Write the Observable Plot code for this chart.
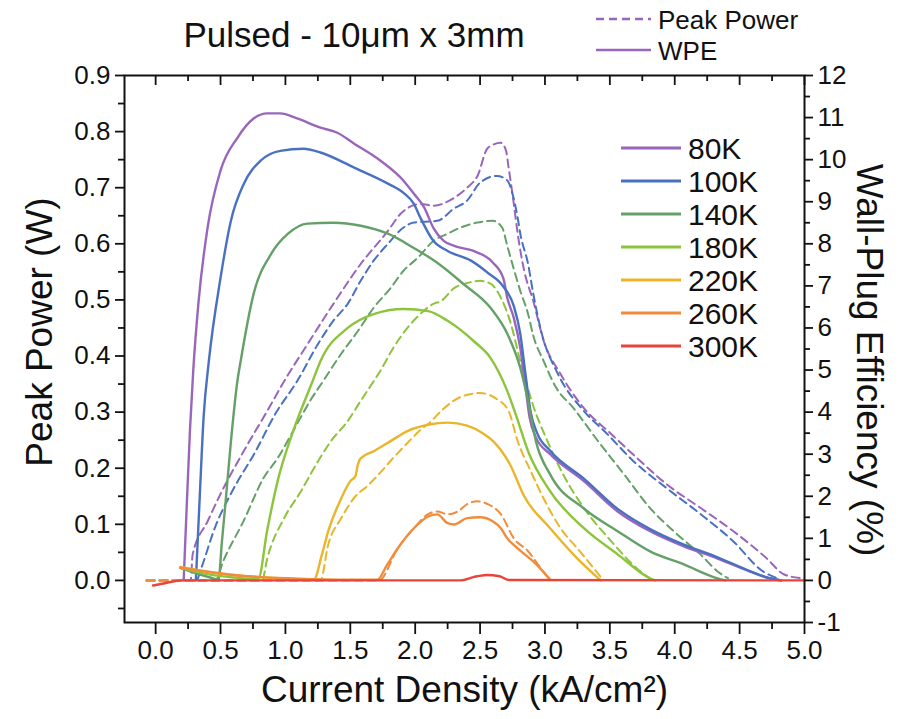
<!DOCTYPE html>
<html><head><meta charset="utf-8">
<script src="https://cdn.jsdelivr.net/npm/d3@7"></script>
<script src="https://cdn.jsdelivr.net/npm/@observablehq/plot@0.6"></script>
<style>
body{margin:0;background:#fff;}
#wrap{position:relative;width:907px;height:719px;}
</style></head><body><div id="wrap"></div>
<script>
const temps = ["80K","100K","140K","180K","220K","260K","300K"];
const colors = ["#9966bb","#4a70c2","#64a068","#8cc43c","#eab52a","#f08c3c","#e8443a"];
const xTicks = [0,0.5,1,1.5,2,2.5,3,3.5,4,4.5,5];
const xMinor = [-0.25,0.25,0.75,1.25,1.75,2.25,2.75,3.25,3.75,4.25,4.75];
const yLeftTicks = [0,0.1,0.2,0.3,0.4,0.5,0.6,0.7,0.8,0.9];
const yLeftMinor = [-0.05,0.05,0.15,0.25,0.35,0.45,0.55,0.65,0.75,0.85];
const yRightTicks = [-1,0,1,2,3,4,5,6,7,8,9,10,11,12];
const yRightMinor = [-0.5,0.5,1.5,2.5,3.5,4.5,5.5,6.5,7.5,8.5,9.5,10.5,11.5];
const seriesLabels = ["Peak Power","WPE"];

// Wall-plug efficiency (%) vs current density (kA/cm2)
const wpe80 = [[0.216,0],[0.24,1.8],[0.265,3.6],[0.29,5.0],[0.33,6.6],[0.40,8.38],[0.50,9.74],[0.63,10.52],[0.755,10.98],[0.86,11.10],[0.96,11.10],[1.09,10.98],[1.27,10.76],[1.40,10.64],[1.53,10.38],[1.73,9.98],[1.91,9.50],[1.99,9.19],[2.07,8.86],[2.14,8.38],[2.22,8.07],[2.30,7.95],[2.45,7.83],[2.60,7.55],[2.68,7.17],[2.71,6.71],[2.76,6.24],[2.81,5.52],[2.85,4.6],[2.88,3.9],[2.93,3.4],[3.04,3.0],[3.30,2.36],[3.56,1.64],[3.81,1.17],[4.07,0.81],[4.33,0.52],[4.58,0.21],[4.71,0.07],[4.82,0]];
const wpe100 = [[0.31,0],[0.34,2.0],[0.37,3.9],[0.41,5.21],[0.50,7.19],[0.58,8.55],[0.68,9.43],[0.81,9.98],[0.96,10.21],[1.14,10.26],[1.27,10.17],[1.53,9.81],[1.79,9.43],[1.91,9.21],[1.99,8.95],[2.04,8.62],[2.14,8.07],[2.25,7.83],[2.43,7.60],[2.56,7.31],[2.68,6.98],[2.76,6.52],[2.81,5.86],[2.85,4.9],[2.89,4.0],[2.94,3.5],[3.04,3.08],[3.30,2.42],[3.56,1.70],[3.81,1.22],[4.07,0.85],[4.33,0.55],[4.58,0.22],[4.72,0.06],[4.82,0]];
const wpe140 = [[0.19,0.30],[0.3,0.18],[0.42,0.07],[0.485,0.02],[0.51,0.9],[0.54,1.9],[0.58,3.3],[0.63,4.74],[0.655,5.21],[0.755,6.81],[0.89,7.76],[1.02,8.24],[1.17,8.48],[1.37,8.50],[1.58,8.43],[1.79,8.24],[1.99,7.90],[2.17,7.55],[2.37,7.05],[2.58,6.48],[2.71,5.86],[2.81,5.05],[2.87,4.26],[2.93,3.31],[3.04,2.52],[3.30,1.71],[3.56,1.17],[3.81,0.69],[4.07,0.38],[4.33,0.05],[4.39,0]];
const wpe180 = [[0.19,0.30],[0.4,0.15],[0.6,0.07],[0.79,0.03],[0.86,1.2],[0.94,2.36],[1.06,3.55],[1.21,4.74],[1.27,5.21],[1.48,6.00],[1.68,6.33],[1.91,6.45],[2.10,6.40],[2.25,6.17],[2.45,5.69],[2.58,5.29],[2.71,4.5],[2.78,3.9],[2.87,3.07],[3.04,2.12],[3.30,1.24],[3.56,0.62],[3.81,0.05],[3.85,0]];
const wpe220 = [[0.19,0.32],[0.5,0.16],[0.9,0.06],[1.22,0.02],[1.28,0.6],[1.33,1.17],[1.43,1.95],[1.50,2.36],[1.54,2.48],[1.555,2.71],[1.58,2.90],[1.68,3.07],[1.81,3.31],[1.94,3.55],[2.10,3.70],[2.25,3.75],[2.40,3.68],[2.52,3.50],[2.60,3.31],[2.73,2.76],[2.84,2.00],[3.04,1.24],[3.25,0.52],[3.43,0]];
const wpe260 = [[0.19,0.30],[0.6,0.13],[1.0,0.05],[1.4,0.02],[1.71,0.02],[1.78,0.35],[1.865,0.76],[1.99,1.24],[2.10,1.52],[2.17,1.57],[2.25,1.36],[2.30,1.33],[2.40,1.48],[2.50,1.50],[2.60,1.40],[2.66,1.24],[2.71,1.00],[2.79,0.76],[2.91,0.45],[3.04,0.02]];
const wpe300 = [[-0.02,-0.12],[0.08,-0.06],[0.2,0],[2.35,0],[2.45,0.08],[2.55,0.13],[2.65,0.1],[2.72,0.01],[5.0,0]];

// Peak power (W) vs current density (kA/cm2)
const pp80 = [[-0.07,0],[0.27,0],[0.285,0.046],[0.40,0.105],[0.50,0.154],[0.71,0.243],[0.86,0.302],[0.99,0.355],[1.17,0.421],[1.37,0.493],[1.58,0.564],[1.79,0.623],[1.89,0.654],[2.04,0.671],[2.14,0.668],[2.30,0.682],[2.40,0.700],[2.48,0.721],[2.56,0.771],[2.66,0.780],[2.70,0.766],[2.72,0.736],[2.76,0.671],[2.79,0.618],[2.84,0.552],[2.91,0.498],[2.99,0.427],[3.12,0.368],[3.30,0.307],[3.51,0.261],[3.71,0.218],[3.94,0.171],[4.20,0.129],[4.45,0.088],[4.71,0.039],[4.84,0.011],[4.97,0.004]];
const pp100 = [[-0.07,0],[0.315,0],[0.35,0.021],[0.46,0.096],[0.59,0.159],[0.77,0.230],[0.92,0.296],[1.09,0.355],[1.25,0.421],[1.37,0.463],[1.48,0.493],[1.58,0.534],[1.68,0.570],[1.79,0.600],[1.91,0.629],[1.99,0.638],[2.17,0.641],[2.30,0.663],[2.40,0.677],[2.50,0.709],[2.63,0.721],[2.71,0.713],[2.75,0.689],[2.79,0.646],[2.81,0.618],[2.87,0.564],[2.91,0.511],[2.97,0.445],[3.10,0.368],[3.30,0.302],[3.48,0.261],[3.68,0.213],[3.94,0.164],[4.20,0.118],[4.45,0.070],[4.68,0.016],[4.79,0.004]];
const pp140 = [[-0.07,0],[0.46,0],[0.52,0.034],[0.68,0.107],[0.83,0.182],[0.94,0.218],[1.09,0.279],[1.19,0.320],[1.29,0.355],[1.43,0.404],[1.56,0.445],[1.68,0.486],[1.81,0.521],[1.91,0.552],[2.02,0.575],[2.14,0.605],[2.25,0.618],[2.35,0.629],[2.48,0.638],[2.60,0.641],[2.67,0.629],[2.71,0.596],[2.76,0.555],[2.81,0.516],[2.87,0.475],[2.91,0.436],[2.99,0.391],[3.08,0.346],[3.22,0.307],[3.41,0.248],[3.61,0.189],[3.81,0.129],[4.02,0.082],[4.20,0.046],[4.33,0.016],[4.41,0.004]];
const pp180 = [[-0.07,0],[0.82,0],[0.86,0.039],[0.99,0.111],[1.12,0.159],[1.22,0.2],[1.35,0.248],[1.48,0.284],[1.58,0.320],[1.68,0.355],[1.73,0.373],[1.83,0.414],[1.94,0.45],[2.04,0.475],[2.14,0.493],[2.20,0.498],[2.30,0.521],[2.40,0.530],[2.50,0.534],[2.58,0.529],[2.66,0.504],[2.73,0.463],[2.81,0.391],[2.91,0.311],[3.02,0.248],[3.14,0.189],[3.30,0.129],[3.51,0.070],[3.71,0.021],[3.83,0]];
const pp220 = [[-0.07,0],[1.27,0],[1.33,0.064],[1.43,0.111],[1.54,0.15],[1.63,0.168],[1.73,0.192],[1.83,0.218],[1.94,0.245],[2.04,0.268],[2.12,0.283],[2.20,0.302],[2.35,0.327],[2.50,0.334],[2.63,0.323],[2.72,0.302],[2.79,0.248],[2.89,0.195],[2.99,0.146],[3.12,0.093],[3.25,0.057],[3.35,0.029],[3.45,0]];
const pp260 = [[-0.07,0],[1.72,0],[1.865,0.057],[1.99,0.093],[2.10,0.118],[2.17,0.123],[2.25,0.118],[2.33,0.123],[2.40,0.136],[2.48,0.141],[2.56,0.136],[2.66,0.118],[2.76,0.075],[2.87,0.052],[2.97,0.021],[3.04,0]];

const wpeSets = [wpe80,wpe100,wpe140,wpe180,wpe220,wpe260,wpe300];
const ppSets = [pp80,pp100,pp140,pp180,pp220,pp260];

const k = 0.9/12; // WPE (%) -> left-axis units
const wpeRows = [], ppRows = [];
temps.forEach((t,i)=>{
  wpeSets[i].forEach(([j,v])=>wpeRows.push({T:t,J:j,y:v*k}));
  if (ppSets[i]) ppSets[i].forEach(([j,v])=>ppRows.push({T:t,J:j,y:v}));
});

const font = "'Liberation Sans', Arial, sans-serif";
const tickFont = 26;
const plot = Plot.plot({
  width:907, height:719,
  marginLeft:124, marginRight:103, marginTop:75, marginBottom:97,
  x:{domain:[-0.24,5.0], label:null},
  y:{domain:[-0.075,0.9], label:null},
  color:{domain:temps, range:colors},
  style:{fontFamily:font, fontSize:tickFont+"px", color:"#111", background:"white", overflow:"visible"},
  marks:[
    Plot.line(ppRows,{x:"J",y:"y",z:"T",stroke:"T",strokeWidth:2,strokeDasharray:"8,5",curve:"monotone-x"}),
    Plot.line(wpeRows,{x:"J",y:"y",z:"T",stroke:"T",strokeWidth:2.4,curve:"monotone-x"}),
    Plot.frame({stroke:"#111",strokeWidth:2}),
    Plot.axisX({ticks:xTicks, tickSize:12, tickPadding:6, tickFormat:d3.format(".1f"), strokeWidth:1.8, fontSize:tickFont}),
    Plot.axisX({ticks:xMinor.filter(d=>d>-0.24), tickSize:7, tickFormat:()=>"", strokeWidth:1.8}),
    Plot.tickX(xTicks,{x:d=>d, insetBottom:537, stroke:"#111", strokeWidth:1.8}),
    Plot.tickX(xMinor.filter(d=>d>-0.24),{x:d=>d, insetBottom:541, stroke:"#111", strokeWidth:1.8}),
    Plot.axisY({anchor:"left", ticks:yLeftTicks, tickSize:9, tickPadding:5, tickFormat:d3.format(".1f"), strokeWidth:1.8, fontSize:tickFont}),
    Plot.axisY({anchor:"left", ticks:yLeftMinor.filter(d=>d>-0.075), tickSize:6, tickFormat:()=>"", strokeWidth:1.8}),
    Plot.axisY({anchor:"right", ticks:yRightTicks.map(v=>v*k), tickSize:8, tickPadding:5, tickFormat:d=>String(Math.round(d/k)), strokeWidth:1.8, fontSize:tickFont}),
    Plot.axisY({anchor:"right", ticks:yRightMinor.map(v=>v*k), tickSize:5, tickFormat:()=>"", strokeWidth:1.8}),
    Plot.text(["Current Density (kA/cm²)"],{text:d=>d, frameAnchor:"bottom", dy:68, textAnchor:"middle", lineAnchor:"middle", fontSize:37, fill:"#111"}),
    Plot.text(["Peak Power (W)"],{text:d=>d, frameAnchor:"left", dx:-84, dy:-17, rotate:-90, textAnchor:"middle", lineAnchor:"middle", fontSize:37, fill:"#111"}),
    Plot.text(["Wall-Plug Efficiency (%)"],{text:d=>d, frameAnchor:"right", dx:64, dy:11, rotate:90, textAnchor:"middle", lineAnchor:"middle", fontSize:37, fill:"#111"})
  ]
});
document.getElementById("wrap").appendChild(plot);

// Title and legends
const svg = d3.select(plot);
const g = svg.append("g").attr("font-family", font).attr("fill","#111");
g.append("text").attr("x",354).attr("y",47).attr("text-anchor","middle").attr("font-size",35).text("Pulsed - 10μm x 3mm");
// series-type legend
seriesLabels.forEach((s,i)=>{
  const y = 19 + i*31;
  g.append("line").attr("x1",596).attr("x2",651).attr("y1",y).attr("y2",y)
    .attr("stroke",colors[0]).attr("stroke-width",2.4).attr("stroke-dasharray", i===0 ? "8,5" : null);
  g.append("text").attr("x",658).attr("y",y+9.5).attr("text-anchor","start").attr("font-size",26).text(s);
});
// temperature legend
temps.forEach((t,i)=>{
  const y = 148 + i*33;
  g.append("line").attr("x1",621).attr("x2",681).attr("y1",y).attr("y2",y)
    .attr("stroke",colors[i]).attr("stroke-width",3);
  g.append("text").attr("x",688).attr("y",y+10.5).attr("text-anchor","start").attr("font-size",30).text(t);
});
</script></body></html>
